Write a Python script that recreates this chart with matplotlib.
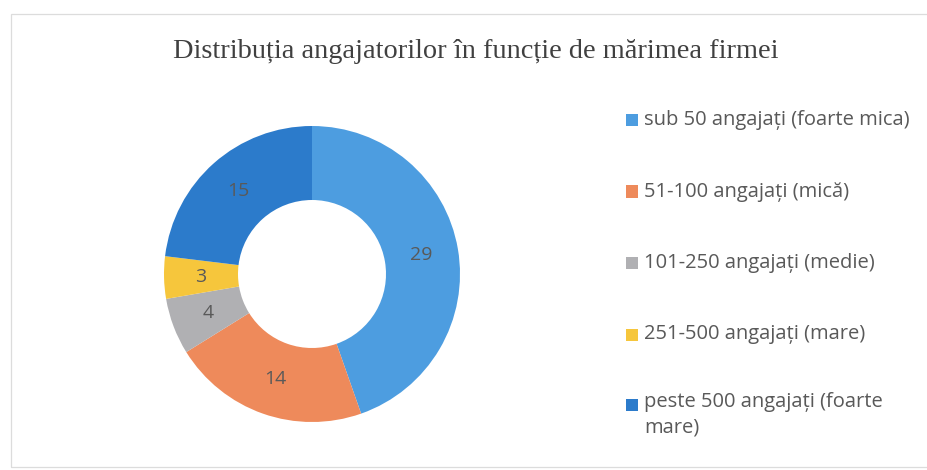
import matplotlib.pyplot as plt
from matplotlib.patches import Rectangle

# data
categories = [
    "sub 50 angajați (foarte mica)",
    "51-100 angajați (mică)",
    "101-250 angajați (medie)",
    "251-500 angajați (mare)",
    "peste 500 angajați (foarte\nmare)",
]
values = [29, 14, 4, 3, 15]
colors = ["#4d9de0", "#ee8a5b", "#b0b0b3", "#f6c63c", "#2c7bcb"]

title = "Distribuția angajatorilor în funcție de mărimea firmei"

W, H = 927, 470
fig = plt.figure(figsize=(W / 100, H / 100), dpi=100)
fig.patch.set_facecolor("white")

# faint chart border
fig.add_artist(Rectangle((11 / W, 3 / H), (W + 10) / W, (H - 17) / H,
                         transform=fig.transFigure, fill=False,
                         edgecolor="#dcdcdc", lw=0.9))

# donut, centre ~(312, 274), radius ~148 px
r = 148
cx, cy = 312, 274
ax = fig.add_axes([(cx - r) / W, (H - cy - r) / H, 2 * r / W, 2 * r / H])
wedges, texts = ax.pie(values, colors=colors, startangle=90, counterclock=False,
                       radius=1.0, wedgeprops=dict(width=0.5, linewidth=0),
                       labels=[str(v) for v in values], labeldistance=0.75,
                       textprops=dict(color="#595959", fontsize=14,
                                      family="Open Sans"))
for t in texts:
    t.set_ha("center")
    t.set_va("center")
ax.set_xlim(-1, 1)
ax.set_ylim(-1, 1)
ax.set_aspect("equal")
ax.axis("off")

fig.text(476 / W, 1 - 52 / H, title, ha="center", va="center",
         fontsize=20.4, family="Liberation Serif", color="#404040")

# legend
rows_y = [120, 191.5, 263, 334.5, 405]
for lab, col, y in zip(categories, colors, rows_y):
    fig.add_artist(Rectangle((626 / W, 1 - (y + 6) / H), 12 / W, 12 / H,
                             transform=fig.transFigure, facecolor=col,
                             edgecolor="none"))
    if "\n" in lab:
        fig.text(644 / W, 1 - (y - 13) / H, lab, ha="left", va="top",
                 fontsize=14.5, family="Open Sans", color="#595959",
                 linespacing=1.35)
    else:
        fig.text(644 / W, 1 - y / H, lab, ha="left", va="center",
                 fontsize=14.5, family="Open Sans", color="#595959")

fig.savefig("out.png", dpi=100)
